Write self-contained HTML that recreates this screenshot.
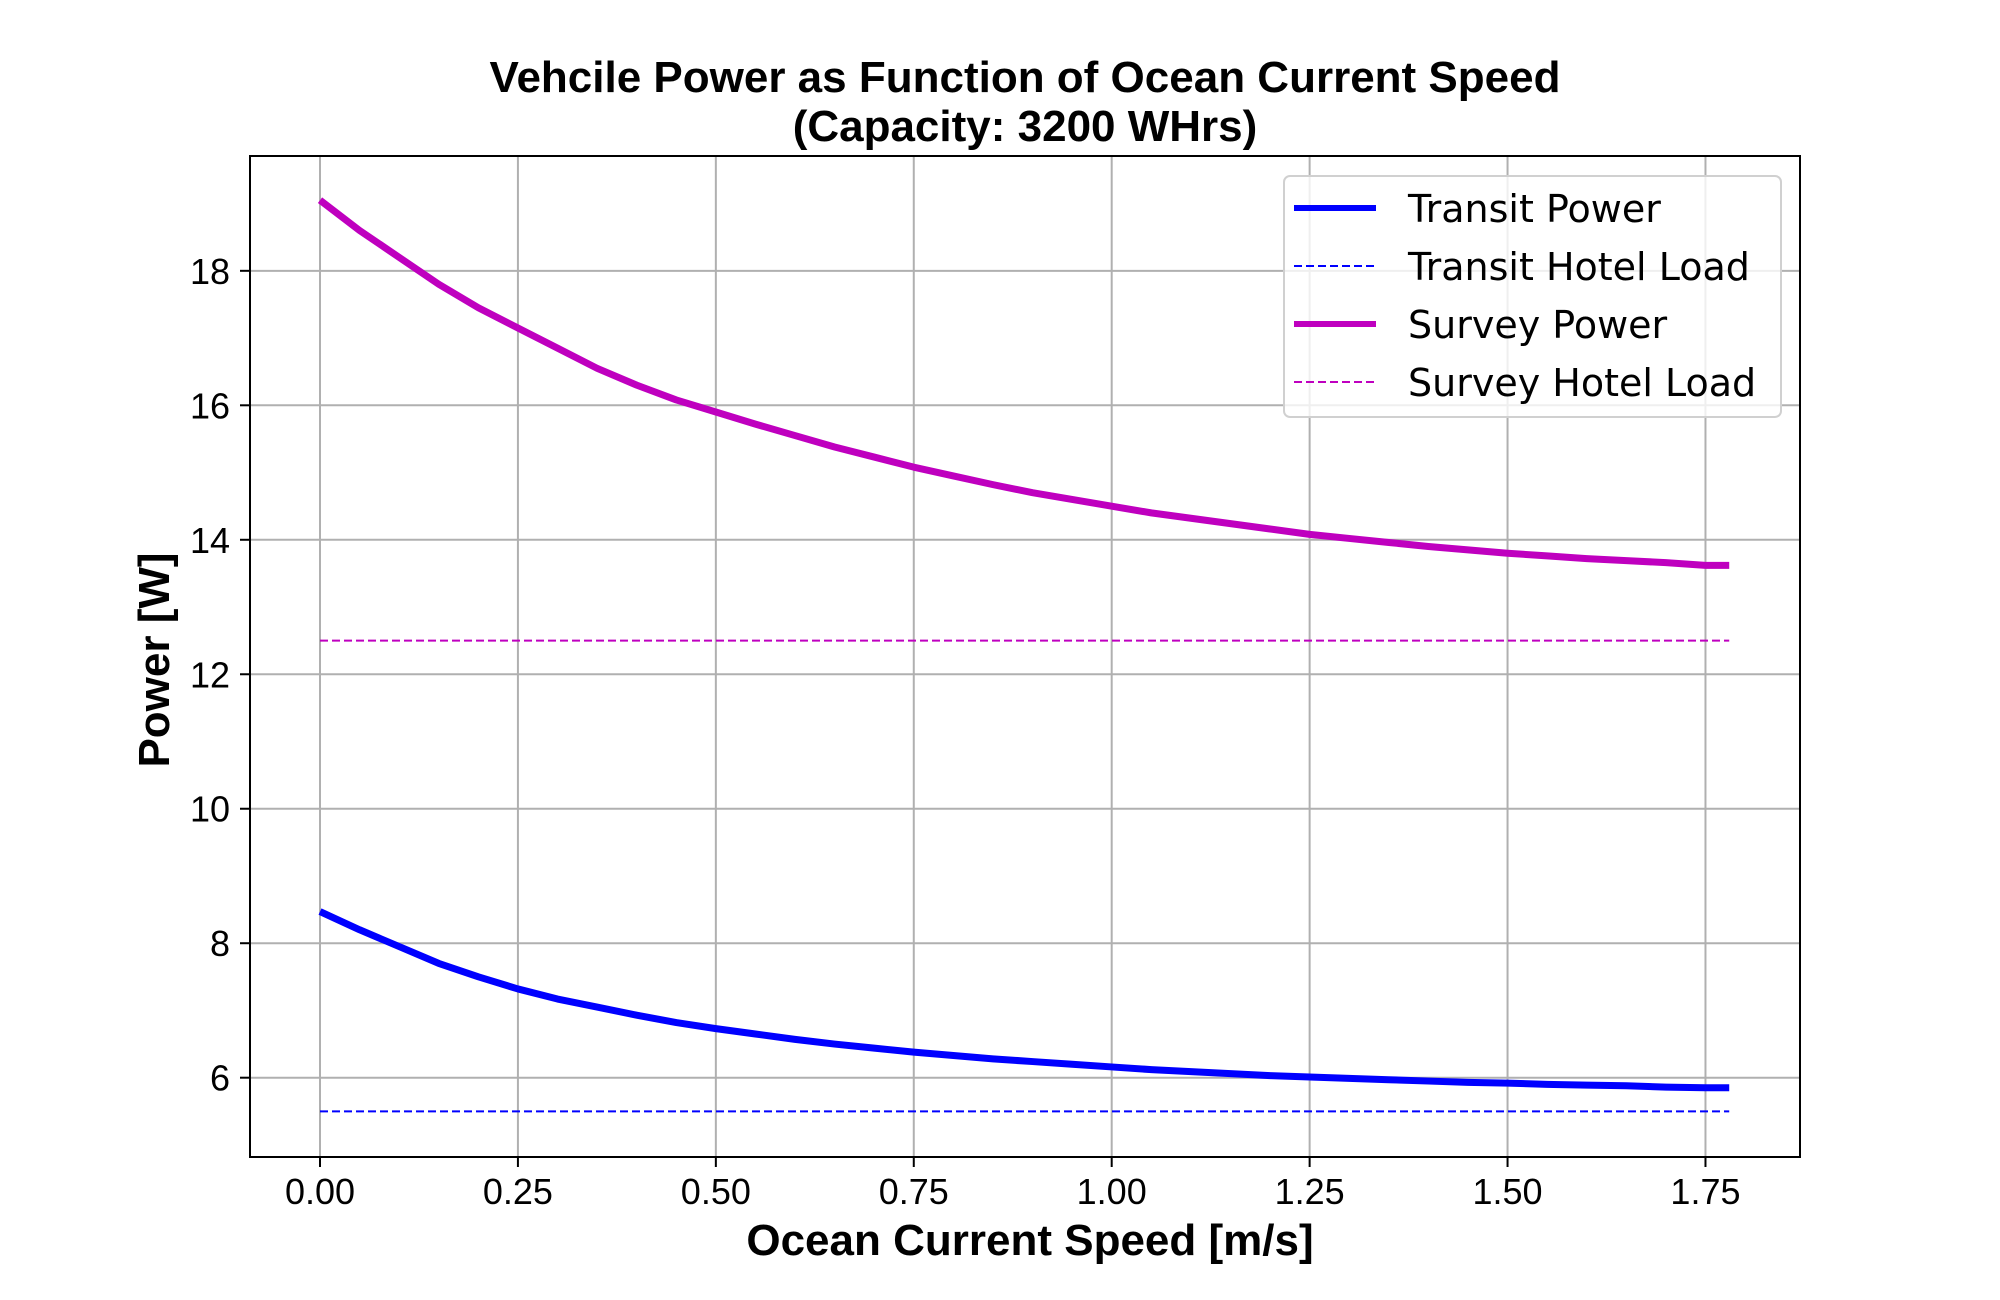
<!DOCTYPE html>
<html><head><meta charset="utf-8"><style>
html,body{margin:0;padding:0;background:#fff;}
svg{display:block;font-family:"Liberation Sans",Arial,sans-serif;}
</style></head><body>
<svg id="chart" width="2000" height="1300" viewBox="0 0 2000 1300" xmlns="http://www.w3.org/2000/svg">
<rect width="2000" height="1300" fill="#fff"/>
<g id="grid"></g>
<g id="series"></g>
<rect x="250" y="156" width="1550" height="1001" fill="none" stroke="#000" stroke-width="2"/>
<g id="ticks"></g>
<text x="1025" y="92" text-anchor="middle" font-weight="bold" font-size="44">Vehcile Power as Function of Ocean Current Speed</text>
<text x="1025" y="141" text-anchor="middle" font-weight="bold" font-size="44">(Capacity: 3200 WHrs)</text>
<text x="1030" y="1255" text-anchor="middle" font-weight="bold" font-size="44">Ocean Current Speed [m/s]</text>
<text transform="translate(169,660) rotate(-90)" text-anchor="middle" font-weight="bold" font-size="44">Power [W]</text>
<g font-family="'DejaVu Sans',sans-serif" font-size="38">
<rect x="1284" y="176" width="497" height="241" rx="6" fill="#fff" fill-opacity="0.8" stroke="#d0d0d0" stroke-width="2"/>
<line x1="1294" y1="208" x2="1376" y2="208" stroke="#0000ff" stroke-width="6"/>
<text x="1408" y="222">Transit Power</text>
<line x1="1294" y1="266" x2="1376" y2="266" stroke="#0000ff" stroke-width="2" stroke-dasharray="8,4"/>
<text x="1408" y="280">Transit Hotel Load</text>
<line x1="1294" y1="324" x2="1376" y2="324" stroke="#bf00bf" stroke-width="6"/>
<text x="1408" y="338">Survey Power</text>
<line x1="1294" y1="382" x2="1376" y2="382" stroke="#bf00bf" stroke-width="2" stroke-dasharray="8,4"/>
<text x="1408" y="396">Survey Hotel Load</text>
</g>
</svg>
<script>
const speeds=[0,0.05,0.1,0.15,0.2,0.25,0.3,0.35,0.4,0.45,0.5,0.55,0.6,0.65,0.7,0.75,0.8,0.85,0.9,0.95,1.0,1.05,1.1,1.15,1.2,1.25,1.3,1.35,1.4,1.45,1.5,1.55,1.6,1.65,1.7,1.75,1.78];
const transitPower=[8.47,8.2,7.95,7.7,7.5,7.32,7.17,7.05,6.93,6.82,6.73,6.65,6.57,6.5,6.44,6.38,6.33,6.28,6.24,6.2,6.16,6.12,6.09,6.06,6.03,6.01,5.99,5.97,5.95,5.93,5.92,5.9,5.89,5.88,5.86,5.85,5.85];
const surveyPower=[19.05,18.6,18.2,17.8,17.45,17.15,16.85,16.55,16.3,16.08,15.9,15.72,15.55,15.38,15.23,15.08,14.95,14.82,14.7,14.6,14.5,14.4,14.32,14.24,14.16,14.08,14.02,13.96,13.9,13.85,13.8,13.76,13.72,13.69,13.66,13.62,13.62];
const transitHotel=[5.5,5.5];
const surveyHotel=[12.5,12.5];
const hotelSpeeds=[0,1.78];
const xTicks=[0,0.25,0.5,0.75,1.0,1.25,1.5,1.75];
const xTickLabels=["0.00","0.25","0.50","0.75","1.00","1.25","1.50","1.75"];
const yTicks=[6,8,10,12,14,16,18];
const yTickLabels=["6","8","10","12","14","16","18"];

const X=v=>320+v*791.7;
const Y=v=>1077.7-(v-6)*67.24;
const NS="http://www.w3.org/2000/svg";
function mk(tag,attrs,parent){const e=document.createElementNS(NS,tag);for(const k in attrs)e.setAttribute(k,attrs[k]);parent.appendChild(e);return e;}
const grid=document.getElementById('grid'),ticks=document.getElementById('ticks'),series=document.getElementById('series');
xTicks.forEach((t,i)=>{
  const g=mk('line',{x1:X(t),x2:X(t),y1:156,y2:1157,stroke:'#b0b0b0','stroke-width':2},grid);
  
  
  const tk=mk('line',{x1:X(t),x2:X(t),y1:1157,y2:1167,stroke:'#000','stroke-width':2},ticks);
  
  
  const tx=mk('text',{x:X(t),y:1204,'text-anchor':'middle','font-size':36},ticks);
  
  
  tx.textContent=xTickLabels[i];
});
yTicks.forEach((t,i)=>{
  const g=mk('line',{x1:250,x2:1800,y1:Y(t),y2:Y(t),stroke:'#b0b0b0','stroke-width':2},grid);
  
  
  const tk=mk('line',{x1:240,x2:250,y1:Y(t),y2:Y(t),stroke:'#000','stroke-width':2},ticks);
  
  
  const tx=mk('text',{x:230,y:Y(t)+13,'text-anchor':'end','font-size':36},ticks);
  
  
  tx.textContent=yTickLabels[i];
});
function line(xs,ys,color,w,dash,name){
  const p=mk('polyline',{points:xs.map((x,i)=>X(x)+','+Y(ys[i])).join(' '),fill:'none',stroke:color,'stroke-width':w,'stroke-linejoin':'round'},series);
  if(dash)p.setAttribute('stroke-dasharray',dash);
  
  
}
line(hotelSpeeds,transitHotel,'#0000ff',2,'8,4','transit-hotel-load-line');
line(hotelSpeeds,surveyHotel,'#bf00bf',2,'8,4','survey-hotel-load-line');
line(speeds,transitPower,'#0000ff',7,null,'transit-power-line');
line(speeds,surveyPower,'#bf00bf',7,null,'survey-power-line');
</script>
</body></html>
